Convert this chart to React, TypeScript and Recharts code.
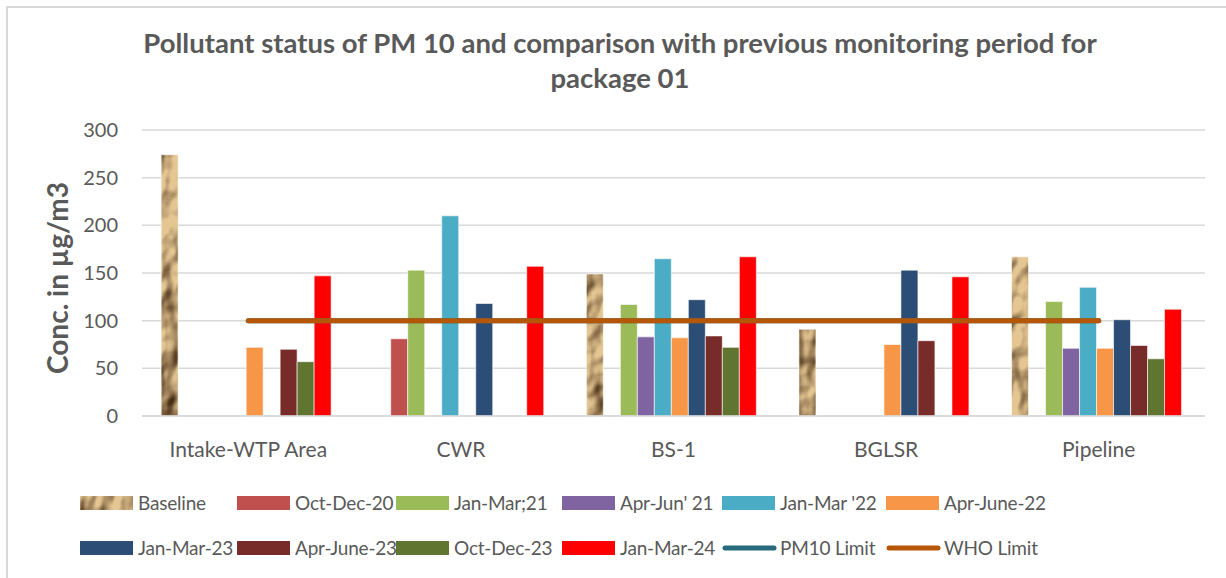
import React from "react";
import {
  ComposedChart,
  Bar,
  Line,
  XAxis,
  YAxis,
  CartesianGrid,
  Legend,
} from "recharts";

const categories = ["Intake-WTP Area", "CWR", "BS-1", "BGLSR", "Pipeline"];

const baseline = [274, null, 149, 91, 167];
const octDec20 = [null, 81, null, null, null];
const janMar21 = [null, 153, 117, null, 120];
const aprJun21 = [null, null, 83, null, 71];
const janMar22 = [null, 210, 165, null, 135];
const aprJune22 = [72, null, 82, 75, 71];
const janMar23 = [null, 118, 122, 153, 101];
const aprJune23 = [70, null, 84, 79, 74];
const octDec23 = [57, null, 72, null, 60];
const janMar24 = [147, 157, 167, 146, 112];
const pm10Limit = [100, 100, 100, 100, 100];
const whoLimit = [100, 100, 100, 100, 100];

const yTicks = [0, 50, 100, 150, 200, 250, 300];

const barSeries = [
  { key: "baseline", name: "Baseline", values: baseline, fill: "url(#crumple)" },
  { key: "octDec20", name: "Oct-Dec-20", values: octDec20, fill: "#c0504d" },
  { key: "janMar21", name: "Jan-Mar;21", values: janMar21, fill: "#9bbb59" },
  { key: "aprJun21", name: "Apr-Jun' 21", values: aprJun21, fill: "#8064a2" },
  { key: "janMar22", name: "Jan-Mar '22", values: janMar22, fill: "#4bacc6" },
  { key: "aprJune22", name: "Apr-June-22", values: aprJune22, fill: "#f79646" },
  { key: "janMar23", name: "Jan-Mar-23", values: janMar23, fill: "#2c4d75" },
  { key: "aprJune23", name: "Apr-June-23", values: aprJune23, fill: "#772c2a" },
  { key: "octDec23", name: "Oct-Dec-23", values: octDec23, fill: "#5f7530" },
  { key: "janMar24", name: "Jan-Mar-24", values: janMar24, fill: "#ff0000" },
];

const lineSeries = [
  { key: "pm10", name: "PM10 Limit", values: pm10Limit, color: "#276a7c" },
  { key: "who", name: "WHO Limit", values: whoLimit, color: "#b65708" },
];

const data = categories.map((name, i) => {
  const row: Record<string, any> = { name };
  barSeries.forEach((s) => (row[s.key] = s.values[i]));
  lineSeries.forEach((s) => (row[s.key] = s.values[i]));
  return row;
});

const FONT = "Lato, 'Noto Sans', sans-serif";
const TEXT = "#595959";
const GRID = "#d9d9d9";

const legendItems = [
  ...barSeries.map((s) => ({ name: s.name, fill: s.fill, line: false })),
  ...lineSeries.map((s) => ({ name: s.name, fill: s.color, line: true })),
];

const LegendBox = () => (
  <div
    style={{
      height: 92,
      display: "grid",
      gridTemplateColumns: "157px 159px 166px 160px 164px 170px",
      gridAutoRows: "45px",
      paddingLeft: 80,
      paddingTop: 4,
      boxSizing: "border-box",
      fontFamily: FONT,
      fontSize: 19,
      letterSpacing: -0.2,
      color: TEXT,
    }}
  >
    {legendItems.map((it) => (
      <div key={it.name} style={{ display: "flex", alignItems: "center" }}>
        <svg width={56} height={16} style={{ marginRight: 2, flexShrink: 0 }}>
          {it.line ? (
            <line x1={3} y1={8} x2={52} y2={8} stroke={it.fill} strokeWidth={5} strokeLinecap="round" />
          ) : (
            <rect x={0} y={1} width={53} height={14} fill={it.fill} />
          )}
        </svg>
        <span style={{ whiteSpace: "nowrap" }}>{it.name}</span>
      </div>
    ))}
  </div>
);

const YLabel = (props: any) => {
  const vb = props.viewBox || { x: 0, y: 130, width: 142, height: 286 };
  const cx = vb.x + 57;
  const cy = vb.y + vb.height / 2 + 5;
  return (
    <text
      x={cx}
      y={cy}
      transform={`rotate(-90, ${cx}, ${cy})`}
      textAnchor="middle"
      dominantBaseline="central"
      fill={TEXT}
      fontFamily={FONT}
      fontWeight="bold"
      fontSize={28}
    >
      Conc. in µg/m3
    </text>
  );
};

export default function App() {
  return (
    <div
      style={{
        position: "absolute",
        left: 0,
        top: 0,
        width: 1226,
        height: 578,
        overflow: "hidden",
        background: "#fff",
      }}
    >
      <div
        style={{
          position: "absolute",
          left: 6,
          top: 6,
          width: 1260,
          height: 620,
          border: `2px solid ${GRID}`,
        }}
      />
      <div
        style={{
          position: "absolute",
          left: 0,
          top: 25,
          width: 1240,
          textAlign: "center",
          fontFamily: FONT,
          fontWeight: "bold",
          fontSize: 27.5,
          lineHeight: "35px",
          color: TEXT,
        }}
      >
        Pollutant status of PM 10 and comparison with previous monitoring period for
        <br />
        package 01
      </div>
      <div style={{ position: "absolute", left: 0, top: 0 }}>
        <ComposedChart
          width={1226}
          height={578}
          data={data}
          margin={{ top: 130, right: 21, left: 0, bottom: 10 }}
          barGap={0}
          barCategoryGap="9%"
        >
          <defs>
            <filter
              id="paperFx"
              x="0"
              y="0"
              width="1226"
              height="578"
              filterUnits="userSpaceOnUse"
              colorInterpolationFilters="sRGB"
            >
              <feTurbulence type="fractalNoise" baseFrequency="0.03 0.022" numOctaves="3" seed="11" result="noise" />
              <feDiffuseLighting in="noise" lightingColor="#ffffff" surfaceScale="10" diffuseConstant="1.2" result="lit">
                <feDistantLight azimuth="225" elevation="42" />
              </feDiffuseLighting>
              <feComponentTransfer in="lit">
                <feFuncR type="linear" slope="0.62" intercept="0.28" />
                <feFuncG type="linear" slope="0.6" intercept="0.18" />
                <feFuncB type="linear" slope="0.5" intercept="0.08" />
              </feComponentTransfer>
            </filter>
            <pattern id="crumple" patternUnits="userSpaceOnUse" width="1226" height="578">
              <rect width="1226" height="578" fill="#c9a678" filter="url(#paperFx)" />
            </pattern>
          </defs>
          <CartesianGrid vertical={false} stroke={GRID} strokeWidth={1.5} />
          <XAxis
            dataKey="name"
            height={60}
            axisLine={{ stroke: GRID, strokeWidth: 1.5 }}
            tickLine={false}
            tickSize={0}
            tickMargin={26}
            tick={{ fill: TEXT, fontFamily: FONT, fontSize: 21 }}
            interval={0}
          />
          <YAxis
            width={142}
            domain={[0, 300]}
            ticks={yTicks}
            axisLine={false}
            tickLine={false}
            tickSize={0}
            tickMargin={24}
            tick={{ fill: TEXT, fontFamily: FONT, fontSize: 20 }}
            label={<YLabel />}
          />
          <Legend verticalAlign="bottom" height={92} content={() => <LegendBox />} />
          {barSeries.map((s) => (
            <Bar
              key={s.key}
              dataKey={s.key}
              name={s.name}
              fill={s.fill}
              stroke="#ffffff"
              strokeWidth={0.6}
              isAnimationActive={false}
            />
          ))}
          {lineSeries.map((s) => (
            <Line
              key={s.key}
              dataKey={s.key}
              name={s.name}
              stroke={s.color}
              strokeWidth={5}
              strokeLinecap="round"
              dot={false}
              activeDot={false}
              isAnimationActive={false}
            />
          ))}
        </ComposedChart>
      </div>
    </div>
  );
}
